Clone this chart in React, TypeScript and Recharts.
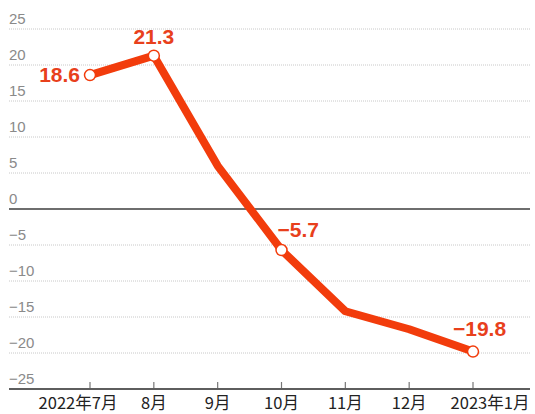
import { LineChart, Line, XAxis, YAxis, CartesianGrid, ReferenceLine } from 'recharts';

const months = ['2022年7月', '8月', '9月', '10月', '11月', '12月', '2023年1月'];
const growth = [18.6, 21.3, 6.0, -5.7, -14.2, -16.7, -19.8];
const labelled = [true, true, false, true, false, false, true];
const yTicks = [-25, -20, -15, -10, -5, 0, 5, 10, 15, 20, 25];

const data = months.map((m, i) => ({ month: m, value: growth[i], show: labelled[i] }));

const RED = '#f23c0c';
const LABEL_RED = '#e8401c';

// where the value label sits relative to its point
const labelPos: Record<number, { dx: number; dy: number; anchor: 'start' | 'middle' | 'end' }> = {
  0: { dx: -10, dy: 7, anchor: 'end' },
  1: { dx: 0, dy: -12, anchor: 'middle' },
  3: { dx: -4, dy: -13, anchor: 'start' },
  6: { dx: -20, dy: -16, anchor: 'start' },
};

// first and last month labels are nudged off-centre
const tickShift: Record<number, number> = { 0: -12, 6: 17 };

const Dot = (props: any) => {
  const { cx, cy, index, payload } = props;
  if (!payload.show) return <g key={index} />;
  const p = labelPos[index];
  return (
    <g key={index}>
      <circle cx={cx} cy={cy} r={5.5} fill="#fff" stroke={RED} strokeWidth={1.5} />
      <text
        x={cx + p.dx}
        y={cy + p.dy}
        textAnchor={p.anchor}
        fill={LABEL_RED}
        fontSize={21}
        fontWeight="bold"
        fontFamily="Liberation Sans, Arial, sans-serif"
      >
        {payload.value < 0 ? '\u2212' + Math.abs(payload.value).toFixed(1) : payload.value.toFixed(1)}
      </text>
    </g>
  );
};

const XTick = (props: any) => {
  const { x, y, payload, index } = props;
  const axisY = y - 8;
  return (
    <g>
      <line x1={x} x2={x} y1={axisY - 7} y2={axisY - 1} stroke="#777" strokeWidth={1.2} />
      <text
        x={x + (tickShift[index] ?? 0)}
        y={axisY + 20}
        textAnchor="middle"
        fill="#222"
        fontSize={16.5}
        fontFamily="Noto Sans CJK SC, sans-serif"
      >
        {payload.value}
      </text>
    </g>
  );
};

const YTick = (props: any) => {
  const { y, payload } = props;
  const v = payload.value;
  return (
    <text x={9} y={y - 5} textAnchor="start" fill="#8a8a8a" fontSize={15} fontFamily="Liberation Sans, Arial, sans-serif">
      {v < 0 ? '\u2212' + Math.abs(v) : v}
    </text>
  );
};

export default function App() {
  return (
    <div style={{ position: 'absolute', left: 0, top: 0, background: '#fff' }}>
      <LineChart width={535} height={414} data={data} margin={{ top: 29, right: 5, left: 8, bottom: 0 }}>
        <CartesianGrid vertical={false} stroke="#c8c8c8" strokeDasharray="1 1" />
        <XAxis
          dataKey="month"
          axisLine={{ stroke: '#5e5e5e', strokeWidth: 2 }}
          tickLine={false}
          tick={<XTick />}
          height={25}
          interval={0}
          padding={{ left: 81, right: 57 }}
        />
        <YAxis
          domain={[-25, 25]}
          ticks={yTicks}
          axisLine={false}
          tickLine={false}
          tick={<YTick />}
          width={1}
        />
        <ReferenceLine y={0} stroke="#6e6e6e" strokeWidth={2} />
        <Line
          type="linear"
          dataKey="value"
          stroke={RED}
          strokeWidth={8}
          strokeLinejoin="round"
          dot={<Dot />}
          activeDot={false}
          isAnimationActive={false}
        />
      </LineChart>
    </div>
  );
}
